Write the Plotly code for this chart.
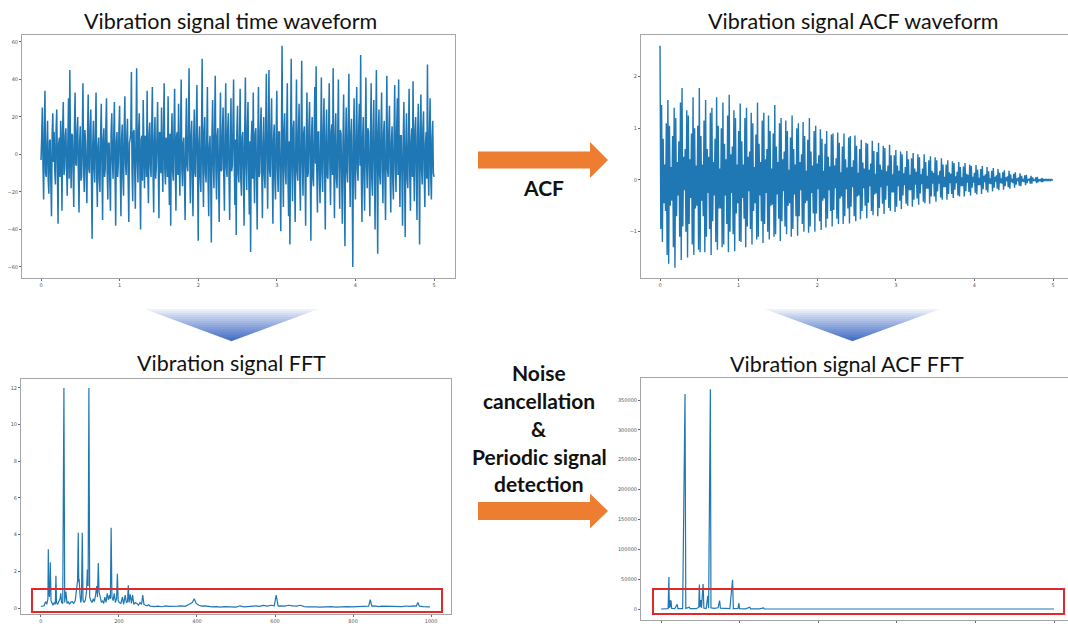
import plotly.graph_objects as go
import numpy as np

W, H = 1068, 624

# ---------------- data ----------------
vib_values = [
    -3, 9, 25, -6, -24, 12, 34, -10, -12, 5, 18, -14, -21, 7, 8, -15, -33, 11, 22, -4, 12, -9, -16, 13, 24, -8, -37, 6, 9, -12, 18, 3, -30, 14, 28, -11, -8, 10, 14, -7,
    -22, 8, 30, -13, 45, 2, -18, 11, 10, -9, -28, 14, 33, -5, -6, 12, 20, -10, -31, 7, 15, -14, -12, 9, 38, -6, -20, 13, 6, -11, -26, 10, 32, -8, -10, 15, 24, -12, -45, 5,
    18, -7, -15, 12, 33, -11, -28, 4, 9, -13, -20, 10, 27, -6, -35, 8, 14, -12, -8, 15, 30, -9, -24, 6, 6, -14, -30, 11, 22, -3, -13, 9, 28, -10, -38, 7, 12, -12, -5, 13,
    26, -10, -33, 8, 16, -12, -22, 14, 31, -5, -11, 9, 19, -13, -36, 6, 8, 11, 44, -9, -25, 12, 13, -7, -29, 10, 46, -4, -15, 13, 22, -11, -40, 8, 10, -14, 29, 5, -18, 10,
    7, -12, 34, -8, -26, 11, 17, -6, -12, 14, 36, -9, -31, 7, 20, -13, -7, 10, 28, -5, -34, 12, 11, -10, 25, -4, -20, 13, 38, -8, -16, 9, 5, -12, 31, -6, -27, 11, -38, 8,
    22, -9, -14, 13, 35, -7, -30, 10, 12, -11, 27, -5, -22, 12, 40, -8, -17, 6, 9, -14, -35, 9, 30, -6, -9, 11, 46, -3, -26, 10, 18, -13, -33, 8, 24, -10, -12, 14, 37, -7,
    -46, 6, 15, -12, -20, 9, 51, -6, -28, 12, 20, -10, -15, 7, 36, -13, -33, 4, 10, -9, -47, 11, 29, -5, -18, 13, 42, -8, -24, 10, 14, -12, -36, 6, 33, -9, -8, 12, 25, -11,
    -30, 10, 38, -7, -12, 13, 22, -11, -35, 5, 30, -9, -6, 14, 40, -4, -27, 8, -43, 12, 26, -10, -15, 6, 35, -13, -22, 9, 12, -8, -38, 11, 41, -6, -19, 14, 28, -9, -32, 7,
    -52, 9, 18, -13, 33, -5, -26, 11, 14, -10, -40, 7, 36, -12, -10, 13, 25, -8, -34, 6, 20, -11, -18, 14, 43, -4, -29, 10, 45, -9, -12, 12, 30, -7, -37, 8, 16, -13, -24, 11,
    34, -8, -20, 12, 12, -10, -41, 6, 58, -5, -28, 13, 22, -9, -16, 11, 38, -12, -33, 7, -48, 10, 51, -6, -25, 14, 18, -11, -36, 5, 40, -9, -14, 12, 27, -13, -30, 8, 50, -4,
    -22, 11, 15, -9, -38, 7, 33, -12, -10, 14, 28, -6, -46, 9, 20, -13, -17, 10, 36, -5, 47, -8, -31, 12, 12, -11, -26, 6, 41, -10, -20, 13, 30, -7, -40, 9, 24, -12, -13, 10,
    38, -6, -27, 12, 16, -11, 46, -4, -34, 9, 22, -13, -18, 10, 40, -7, -29, 13, 11, -10, -37, 6, 32, -12, -49, 8, 25, -9, -15, 14, 43, -5, -28, 11, 19, -12, -60, 7, 30, -10,
    -24, 10, 36, -8, -14, 13, 27, -6, 53, -11, -36, 9, 20, -12, -30, 7, 41, -5, -18, 14, 12, -10, -33, 8, 38, -13, -22, 11, 29, -6, -40, 9, 45, -7, -53, 12, 24, -11, -16, 13,
    33, -9, -26, 11, 18, -13, -35, 6, 42, -8, -12, 12, 26, -10, -31, 7, 15, -14, -24, 9, 37, -5, -20, 13, 30, -11, 40, -4, -28, 10, 10, -12, -38, 8, 28, -9, -44, 6, 22, -13,
    -18, 9, 35, -11, -30, 7, 14, -12, 39, -5, -25, 13, 20, -9, -35, 10, 27, -6, -48, 12, 32, -8, -16, 14, 23, -10, -28, 6, 12, -13, 48, -7, -22, 11, 30, -12, -24, 9, 18, -10,
    -12,
]

acf_values = [
    2.60, -0.95, 1.45, -1.20, 0.80, -0.45, 0.30, -0.60, 1.10, -1.45, 1.55, -1.62, 1.05, -0.50, 0.25, -0.40, 0.85, -1.30, 1.40, -1.70,
    1.20, -0.70, 0.35, -0.30, 0.75, -1.10, 1.50, -1.55, 1.78, -0.90, 0.45, -0.20, 0.60, -1.00, 1.35, -1.50, 1.25, -0.85, 0.40, -0.35,
    0.90, -1.25, 1.60, -1.45, 1.00, -0.55, 0.28, -0.50, 1.05, -1.35,
    1.78, -1.40, 0.85, -0.40, 0.30, -0.70, 1.15, -1.40, 1.55, -1.10, 0.60, -0.25, 0.45, -0.95, 1.30, -1.45, 1.40, -0.80, 0.35, -0.30,
    0.80, -1.20, 1.60, -1.35, 1.05, -0.55, 0.22, -0.55, 1.00, -1.30, 1.50, -1.25, 0.70, -0.30, 0.40, -0.85, 1.25, -1.40, 1.65, -1.00,
    0.50, -0.25, 0.65, -1.05, 1.35, -1.38, 1.20, -0.65, 0.30, -0.45,
    0.95, -1.18, 1.48, -1.20, 0.75, -0.35, 0.30, -0.75, 1.20, -1.30, 1.40, -0.90, 0.45, -0.22, 0.55, -0.95, 1.30, -1.25, 1.10, -0.60,
    0.25, -0.45, 0.88, -1.15, 1.50, -1.10, 0.70, -0.30, 0.35, -0.80, 1.15, -1.22, 1.30, -0.85, 0.40, -0.25, 0.60, -1.00, 1.25, -1.15,
    0.95, -0.50, 0.22, -0.48, 0.90, -1.10, 1.45, -1.05, 0.65, -0.28,
    0.35, -0.75, 1.10, -1.18, 1.20, -0.80, 0.40, -0.22, 0.55, -0.90, 1.15, -1.05, 0.95, -0.50, 0.20, -0.45, 0.82, -1.10, 1.25, -0.95,
    0.60, -0.28, 0.30, -0.70, 1.00, -1.08, 1.10, -0.70, 0.35, -0.20, 0.50, -0.85, 1.12, -1.00, 0.85, -0.45, 0.18, -0.40, 0.78, -1.02,
    1.20, -0.90, 0.55, -0.25, 0.28, -0.65, 0.95, -1.00, 1.05, -0.65,
    0.32, -0.18, 0.48, -0.80, 0.98, -0.97, 0.80, -0.40, 0.18, -0.36, 0.70, -0.92, 0.95, -0.75, 0.45, -0.20, 0.26, -0.60, 0.88, -0.90,
    0.90, -0.58, 0.28, -0.16, 0.42, -0.75, 0.92, -0.85, 0.72, -0.36, 0.15, -0.32, 0.65, -0.85, 0.90, -0.70, 0.40, -0.18, 0.24, -0.55,
    0.82, -0.84, 0.85, -0.52, 0.25, -0.14, 0.38, -0.70, 0.86, -0.80,
    0.66, -0.32, 0.14, -0.30, 0.60, -0.76, 0.78, -0.60, 0.34, -0.16, 0.22, -0.50, 0.72, -0.74, 0.70, -0.44, 0.20, -0.12, 0.32, -0.60,
    0.76, -0.68, 0.56, -0.28, 0.12, -0.26, 0.54, -0.70, 0.72, -0.54, 0.30, -0.14, 0.20, -0.46, 0.66, -0.66, 0.62, -0.38, 0.17, -0.11,
    0.28, -0.54, 0.68, -0.60, 0.48, -0.24, 0.11, -0.24, 0.48, -0.62,
    0.58, -0.52, 0.28, -0.12, 0.18, -0.40, 0.55, -0.56, 0.50, -0.30, 0.13, -0.10, 0.25, -0.46, 0.56, -0.50, 0.40, -0.20, 0.10, -0.20,
    0.42, -0.52, 0.52, -0.38, 0.22, -0.09, 0.16, -0.36, 0.50, -0.48, 0.44, -0.26, 0.11, -0.08, 0.22, -0.42, 0.50, -0.45, 0.35, -0.17,
    0.08, -0.17, 0.38, -0.46, 0.46, -0.32, 0.18, -0.07, 0.14, -0.32,
    0.44, -0.42, 0.38, -0.22, 0.09, -0.07, 0.18, -0.34, 0.42, -0.38, 0.30, -0.14, 0.06, -0.14, 0.30, -0.38, 0.38, -0.27, 0.15, -0.06,
    0.12, -0.27, 0.36, -0.35, 0.33, -0.19, 0.07, -0.06, 0.16, -0.30, 0.35, -0.32, 0.25, -0.12, 0.05, -0.12, 0.26, -0.32, 0.33, -0.22,
    0.12, -0.05, 0.10, -0.23, 0.30, -0.30, 0.27, -0.15, 0.06, -0.05,
    0.14, -0.25, 0.29, -0.28, 0.20, -0.10, 0.04, -0.10, 0.21, -0.27, 0.27, -0.18, 0.08, -0.04, 0.11, -0.20, 0.25, -0.24, 0.17, -0.07,
    0.03, -0.08, 0.18, -0.22, 0.23, -0.15, 0.06, -0.03, 0.09, -0.17, 0.21, -0.20, 0.14, -0.06, 0.03, -0.07, 0.15, -0.19, 0.19, -0.12,
    0.05, -0.02, 0.07, -0.14, 0.18, -0.17, 0.11, -0.04, 0.02, -0.06,
    0.12, -0.15, 0.15, -0.09, 0.03, -0.02, 0.05, -0.11, 0.13, -0.12, 0.08, -0.03, 0.02, -0.04, 0.09, -0.10, 0.10, -0.06, 0.02, -0.01,
    0.03, -0.07, 0.08, -0.07, 0.05, -0.02, 0.01, -0.02, 0.05, -0.06, 0.06, -0.04, 0.01, -0.01, 0.02, -0.04, 0.04, -0.04, 0.02, -0.01,
    0.01, -0.01, 0.02, -0.02, 0.02, -0.01, 0.01, -0.01, 0.01, 0.00,
    0.00,
]

fft_freq = [
    0, 4, 8, 12, 15, 18, 19, 20, 22, 24, 26, 28, 31, 34, 37, 38.5, 40, 43, 46, 49, 51, 53, 56, 59, 61, 64, 67, 70, 73, 76,
    80, 84, 88, 92, 94, 95.7, 97, 98, 100, 102, 104, 106, 108, 111, 114, 117, 119, 121, 123, 125, 128, 131, 134, 137, 140,
    143, 145, 147, 149, 152, 155, 158, 161, 164, 167, 170, 173, 176, 178, 180, 182, 185, 188, 191, 194, 196, 198, 201, 205,
    209, 212, 216, 219, 222, 224, 226, 229, 232, 235, 238, 242, 246, 250, 254, 258, 261, 264, 268, 272, 276, 280,
    290, 300, 310, 320, 330, 340, 350, 360, 370, 380, 388, 393, 398, 405, 412, 420, 430, 440, 450, 460, 470, 480, 490, 500,
    510, 520, 530, 540, 550, 560, 570, 580, 590, 598, 603, 608, 615, 625, 635, 645, 655, 665, 675, 685, 695, 705, 715, 725,
    735, 745, 755, 765, 775, 785, 795, 805, 815, 825, 835, 840, 844, 848, 855, 865, 875, 885, 895, 905, 915, 925, 935, 945,
    955, 962, 966, 970, 980, 990, 997,
]
fft_amp = [
    0.08, 0.10, 0.12, 0.35, 0.20, 0.50, 3.20, 0.90, 0.60, 2.50, 0.40, 0.25, 0.15, 0.30, 0.20, 1.76, 0.30, 0.20, 0.35, 0.50, 0.80, 0.30, 0.25, 12.0, 0.30, 0.90, 0.25, 0.35, 0.20, 0.30,
    0.35, 0.25, 0.40, 1.10, 1.50, 4.10, 1.40, 1.60, 0.80, 0.30, 0.50, 4.10, 0.40, 0.30, 0.45, 0.90, 2.10, 1.20, 12.0, 0.60, 0.40, 0.30, 0.50, 0.35, 0.70,
    1.20, 0.60, 2.45, 0.90, 0.50, 0.30, 0.40, 0.25, 0.60, 0.30, 0.80, 0.45, 0.70, 0.50, 4.38, 0.60, 0.40, 0.80, 0.30, 0.55, 1.87, 0.40, 0.30, 0.25,
    0.60, 0.20, 0.70, 0.30, 0.35, 1.24, 0.30, 0.75, 0.25, 0.70, 0.20, 0.30, 0.25, 0.15, 0.30, 0.20, 0.70, 0.20, 0.15, 0.12, 0.18, 0.10,
    0.08, 0.10, 0.07, 0.12, 0.09, 0.08, 0.10, 0.12, 0.09, 0.20, 0.30, 0.50, 0.25, 0.15, 0.10, 0.12, 0.08, 0.06, 0.07, 0.05, 0.08, 0.06, 0.07, 0.05,
    0.12, 0.06, 0.08, 0.10, 0.12, 0.09, 0.14, 0.10, 0.15, 0.12, 0.70, 0.10, 0.12, 0.10, 0.15, 0.12, 0.10, 0.15, 0.08, 0.06, 0.08, 0.06, 0.05, 0.07,
    0.06, 0.08, 0.05, 0.07, 0.06, 0.08, 0.06, 0.07, 0.09, 0.07, 0.08, 0.10, 0.45, 0.10, 0.12, 0.08, 0.10, 0.09, 0.07, 0.10, 0.09, 0.08, 0.11, 0.09,
    0.12, 0.10, 0.30, 0.10, 0.08, 0.07, 0.06,
]

acf_fft_freq = [
    0, 18, 20, 21, 23, 24, 25.5, 27, 35, 41, 43, 55, 61, 63, 72, 74, 90, 96, 97.5, 99, 101, 103, 107, 109, 115, 119, 121,
    125.5, 127, 135, 145, 149, 151, 160, 175, 182, 184, 196, 198, 200, 215, 226, 228, 250, 261, 263, 300, 400, 500, 600,
    700, 800, 900, 1000,
]
acf_fft_amp = [
    0, 500, 53400, 2000, 15000, 3000, 14000, 1000, 500, 8000, 500, 500, 360000, 1000, 3000, 500, 500, 3000, 41000, 3000, 15000, 2000, 42000, 1500, 1000, 22000, 1500,
    368000, 2000, 1000, 2000, 14000, 1500, 800, 500, 49000, 500, 1000, 10000, 500, 300, 3000, 300, 300, 2000, 200, 100, 50, 30, 30,
    20, 20, 10, 0,
]

titles = ["Vibration signal time waveform", "Vibration signal ACF waveform",
          "Vibration signal FFT", "Vibration signal ACF FFT"]
side_lines = ["Noise", "cancellation", "&", "Periodic signal", "detection"]

# ---------------- helpers ----------------
def px(x):
    return x / W

def py(y):
    return 1 - y / H

LINE = "#1f77b4"
fig = go.Figure()

t_vib = np.linspace(0, 5, len(vib_values))
t_acf = np.linspace(0, 5, len(acf_values))

fig.add_trace(go.Scatter(x=t_vib, y=vib_values, mode="lines", line=dict(color=LINE, width=1.5, simplify=False),
                         xaxis="x", yaxis="y", showlegend=False, hoverinfo="skip"))
fig.add_trace(go.Scatter(x=t_acf, y=acf_values, mode="lines", line=dict(color=LINE, width=1.4, simplify=False),
                         xaxis="x2", yaxis="y2", showlegend=False, hoverinfo="skip"))
fig.add_trace(go.Scatter(x=fft_freq, y=fft_amp, mode="lines", line=dict(color=LINE, width=1.2),
                         xaxis="x3", yaxis="y3", showlegend=False, hoverinfo="skip"))
fig.add_trace(go.Scatter(x=acf_fft_freq, y=acf_fft_amp, mode="lines", line=dict(color=LINE, width=1.2),
                         xaxis="x4", yaxis="y4", showlegend=False, hoverinfo="skip"))

axis_common = dict(showline=True, mirror=True, linecolor="#a6a6a6", linewidth=1, showgrid=False,
                   zeroline=False, ticks="outside", ticklen=2, tickcolor="#666", tickwidth=0.6,
                   tickfont=dict(size=5, color="#555", family="DejaVu Sans"))

fig.update_layout(
    width=W, height=H, margin=dict(l=0, r=0, t=0, b=0),
    paper_bgcolor="white", plot_bgcolor="white", showlegend=False,
    xaxis=dict(domain=[px(22), px(455)], range=[-0.242, 5.267], tickvals=[0, 1, 2, 3, 4, 5], anchor="y", **axis_common),
    yaxis=dict(domain=[py(278), py(35)], range=[-65.9, 63.7], tickvals=[-60, -40, -20, 0, 20, 40, 60], anchor="x", **axis_common),
    xaxis2=dict(domain=[px(641), px(1068)], range=[-0.242, 5.19], tickvals=[0, 1, 2, 3, 4, 5], anchor="y2", **axis_common),
    yaxis2=dict(domain=[py(278), py(35)], range=[-1.897, 2.806], tickvals=[-1, 0, 1, 2], anchor="x2", **axis_common),
    xaxis3=dict(domain=[px(21), px(451)], range=[-51, 1051], tickvals=[0, 200, 400, 600, 800, 1000], anchor="y3", **axis_common),
    yaxis3=dict(domain=[py(614), py(379)], range=[-0.327, 12.49], tickvals=[0, 2, 4, 6, 8, 10, 12], anchor="x3", **axis_common),
    xaxis4=dict(domain=[px(641), px(1068)], range=[-51, 1035.5], tickvals=[0, 200, 400, 600, 800, 1000],
                showticklabels=False, anchor="y4", **axis_common),
    yaxis4=dict(domain=[py(620), py(378)], range=[-18400, 386900],
                tickvals=[0, 50000, 100000, 150000, 200000, 250000, 300000, 350000], tickformat="d",
                anchor="x4", **axis_common),
)

shapes = []
ORANGE = "#ED7D31"

def arrow(x0, xh, xt, yc, body_half, head_half):
    path = (f"M {px(x0)} {py(yc - body_half)} L {px(xh)} {py(yc - body_half)} "
            f"L {px(xh)} {py(yc - head_half)} L {px(xt)} {py(yc)} L {px(xh)} {py(yc + head_half)} "
            f"L {px(xh)} {py(yc + body_half)} L {px(x0)} {py(yc + body_half)} Z")
    return dict(type="path", xref="paper", yref="paper", path=path, fillcolor=ORANGE,
                line=dict(width=0), layer="above")

shapes.append(arrow(478, 590, 608, 160, 8.5, 18))
shapes.append(arrow(478, 590, 608, 511, 9, 17.5))

# gradient triangles approximated with horizontal bands
def gradient_triangle(xl, xr, ytop, yapex, nb=16):
    out = []
    xa = (xl + xr) / 2
    c0 = np.array([246, 248, 253])
    c1 = np.array([62, 106, 196])
    for i in range(nb):
        f0 = i / nb
        f1 = (i + 1) / nb
        ya, yb = ytop + (yapex - ytop) * f0, ytop + (yapex - ytop) * f1
        la, ra = xl + (xa - xl) * f0, xr - (xr - xa) * f0
        lb, rb = xl + (xa - xl) * f1, xr - (xr - xa) * f1
        c = c0 + (c1 - c0) * ((f0 + f1) / 2) ** 0.9
        col = f"rgb({int(c[0])},{int(c[1])},{int(c[2])})"
        path = (f"M {px(la)} {py(ya)} L {px(ra)} {py(ya)} L {px(rb)} {py(yb + 0.3)} "
                f"L {px(lb)} {py(yb + 0.3)} Z")
        out.append(dict(type="path", xref="paper", yref="paper", path=path, fillcolor=col,
                        line=dict(width=0), layer="above"))
    return out

shapes += gradient_triangle(145, 318, 309, 341)
shapes += gradient_triangle(765, 940, 309, 341)

# red highlight boxes
for x0, x1, y0, y1 in [(32, 442, 589, 612), (653, 1064, 589, 614)]:
    shapes.append(dict(type="rect", xref="paper", yref="paper", x0=px(x0), x1=px(x1),
                       y0=py(y1), y1=py(y0), line=dict(color="#E0292B", width=2),
                       fillcolor="rgba(0,0,0,0)", layer="above"))

fig.update_layout(shapes=shapes)

annotations = []
title_pos = [(230, 21), (853, 21), (231, 363), (847, 364)]
for txt, (x, y) in zip(titles, title_pos):
    annotations.append(dict(text=txt, x=px(x), y=py(y), xref="paper", yref="paper",
                            showarrow=False, xanchor="center", yanchor="middle",
                            font=dict(family="Lato", size=21.5, color="#111")))

annotations.append(dict(text="<b>ACF</b>", x=px(543), y=py(187), xref="paper", yref="paper",
                        showarrow=False, xanchor="center", yanchor="middle",
                        font=dict(family="Lato", size=21, color="#111")))
side_y = [372, 400, 428, 456, 483]
for txt, y in zip(side_lines, side_y):
    annotations.append(dict(text=f"<b>{txt}</b>", x=px(539), y=py(y), xref="paper", yref="paper",
                            showarrow=False, xanchor="center", yanchor="middle",
                            font=dict(family="Lato", size=21, color="#111")))

fig.update_layout(annotations=annotations)

fig.write_html("out.html",
               config={"displayModeBar": False},
               post_script="document.body.style.margin='0';document.body.style.overflow='hidden';")
